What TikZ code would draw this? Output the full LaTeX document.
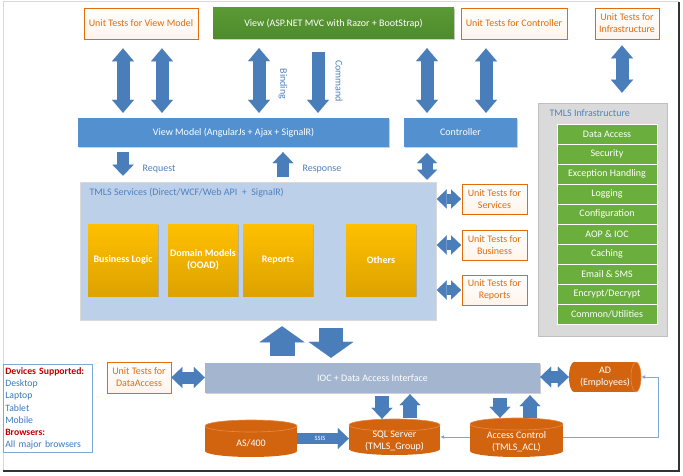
\documentclass[tikz,border=0pt]{standalone}
\usepackage{fontspec}
\setmainfont{Carlito}
\usetikzlibrary{arrows.meta,shadows,calc}
\definecolor{arr}{HTML}{4A7EBB}
\definecolor{org}{HTML}{E36C0A}
\definecolor{orgfill}{HTML}{FFF4EC}
\definecolor{vgreen}{HTML}{5B9A35}
\definecolor{vgreen2}{HTML}{4E8A2C}
\definecolor{igreen}{HTML}{6AAE3E}
\definecolor{bar}{HTML}{5290D0}
\definecolor{lbl}{HTML}{4F81BD}
\definecolor{svcfill}{HTML}{BCD0EA}
\definecolor{yel}{HTML}{FFC000}
\definecolor{yel2}{HTML}{DDA200}
\definecolor{iocfill}{HTML}{A3B5CF}
\definecolor{cylc}{HTML}{D2640F}
\definecolor{cyltop}{HTML}{E8894A}
\definecolor{panelc}{HTML}{DADADA}
\definecolor{thinc}{HTML}{7FA8D6}
\definecolor{devred}{HTML}{C00000}
\definecolor{devblue}{HTML}{3A78C0}
\tikzset{
  Mid/.tip={Triangle[width=22pt,length=13pt,line width=0.01pt]},
  Sm/.tip={Triangle[width=20pt,length=10pt,line width=0.01pt]},
  Hs/.tip={Triangle[width=19pt,length=10pt,line width=0.01pt]},
  Big/.tip={Triangle[width=45pt,length=16pt,line width=0.01pt]},
  Low/.tip={Triangle[width=21pt,length=11pt,line width=0.01pt]},
}
\newcommand\vcyl[6]{%
  \fill[cylc] (#2-#4/2,#3-#5/2+6) rectangle (#2+#4/2,#3+#5/2-6);
  \fill[cylc] (#2,#3+#5/2-6) ellipse [x radius=#4/2, y radius=6];
  \fill[cylc, draw=cyltop, line width=0.6pt] (#2,#3-#5/2+6) ellipse [x radius=#4/2, y radius=6];
  \node[box, minimum width=#4, minimum height=#5] (#1) at (#2,#3) {};
  \node[box, text=white] (#1t) at (#2,#3+4.5) {#6};
}
\begin{document}
\begin{tikzpicture}[x=1pt,y=-1pt,
  font=\fontsize{10}{12}\selectfont,
  box/.style={rectangle, inner sep=0pt, align=center},
  shad/.style={drop shadow={shadow xshift=1.2pt, shadow yshift=-1.2pt, opacity=0.3, fill=black!60}},
  ut/.style={box, draw=org, line width=0.8pt, top color=white, bottom color=orgfill, text=org, shad},
  two/.style={font=\fontsize{10}{12}\selectfont},
  bluebar/.style={box, fill=bar, text=white, shad, minimum height=29},
  yelbox/.style={box, top color=yel, bottom color=yel2, text=white, font=\fontsize{10}{12}\selectfont\bfseries, minimum width=70, minimum height=72, shad},
  item/.style={box, fill=igreen, draw=white, line width=0.6pt, text=white, minimum width=100, minimum height=20},
  fat/.style={draw=arr, line width=13pt},
  lab/.style={text=lbl, font=\fontsize{10}{12}\selectfont},
  thin/.style={draw=thinc, line width=0.8pt, -{Latex[length=4pt,width=4pt]}},
]
% page and frame
\fill[white] (0,0) rectangle (683,476);
\useasboundingbox (0,0) rectangle (683,476);
\draw[black!15, line width=1pt] (3,471) -- (3,2) -- (679,2);
\draw[black!80, line width=2pt] (3,471) -- (679,471) -- (679,2);

% x positions of vertical connectors
\coordinate (xa1) at (123,0);
\coordinate (xa2) at (162,0);
\coordinate (xa3) at (259,0);
\coordinate (xa4) at (318,0);
\coordinate (xa5) at (427,0);
\coordinate (xa6) at (486,0);
\coordinate (xa7) at (622,0);
\coordinate (xres) at (283,0);
\coordinate (xup) at (282,0);
\coordinate (xdn) at (331,0);
\coordinate (xs1) at (382,0);
\coordinate (xs2) at (410,0);
\coordinate (xs3) at (500,0);
\coordinate (xs4) at (530,0);
\coordinate (xthin) at (658,0);

% top row
\node[ut, minimum width=114, minimum height=31] (uvm) at (141,23.5) {Unit Tests for View Model};
\node[box, top color=vgreen, bottom color=vgreen2, text=white, minimum width=241, minimum height=31, shad] (view) at (333.5,23.5) {View (ASP.NET MVC with Razor + BootStrap)};
\node[ut, minimum width=106, minimum height=31] (uctl) at (514,23.5) {Unit Tests for Controller};
\node[ut, two, minimum width=64, minimum height=31] (uinf) at (627,23.5) {Unit Tests for\\Infrastructure};

% second row
\node[bluebar, minimum width=311] (vm) at (233.5,132.5) {View Model (AngularJs + Ajax + SignalR)};
\node[bluebar, minimum width=113] (ctl) at (460.5,132.5) {Controller};

% services
\node[box, fill=svcfill, draw=black!15, line width=0.5pt, minimum width=356, minimum height=138, shad] (svc) at (258,251) {};
\node[lab, anchor=west] (svct) at (86,193) {TMLS Services (Direct/WCF/Web API \ + \ SignalR)};
\node[yelbox] (bl) at (123,260) {Business Logic};
\node[yelbox] (dm) at (203,260) {Domain Models\\(OOAD)};
\node[yelbox] (rep) at (278,260) {Reports};
\node[yelbox] (oth) at (381,260) {Others};

\node[ut, two, minimum width=65, minimum height=30] (uts) at (494.5,199) {Unit Tests for\\Services};
\node[ut, two, minimum width=65, minimum height=30] (utb) at (494.5,245) {Unit Tests for\\Business};
\node[ut, two, minimum width=65, minimum height=30] (utr) at (494.5,290) {Unit Tests for\\Reports};

% infrastructure panel
\node[box, fill=panelc, draw=black!25, line width=0.6pt, minimum width=129, minimum height=233, shad] (infra) at (602.5,219.5) {};
\node[lab, anchor=west] (infrat) at (546,113) {TMLS Infrastructure};
\node[item] (i1) at (607,134) {Data Access};
\node[item] (i2) at (607,154) {Security};
\node[item] (i3) at (607,174) {Exception Handling};
\node[item] (i4) at (607,194) {Logging};
\node[item] (i5) at (607,214) {Configuration};
\node[item] (i6) at (607,234) {AOP \& IOC};
\node[item] (i7) at (607,254) {Caching};
\node[item] (i8) at (607,274) {Email \& SMS};
\node[item] (i9) at (607,294) {Encrypt/Decrypt};
\node[item] (i10) at (607,314) {Common/Utilities};

% data layer
\node[box, fill=iocfill, text=white, minimum width=335, minimum height=30, shad] (ioc) at (372.5,378) {IOC + Data Access Interface};
\node[ut, two, minimum width=64, minimum height=31] (utda) at (139,377.5) {Unit Tests for\\DataAccess};

\vcyl{as400}{251}{438.5}{92}{37}{AS/400}
\vcyl{sql}{394.5}{437}{91}{36}{SQL Server\\(TMLS\_Group)}
\vcyl{acl}{516.5}{437.5}{93}{39}{Access Control\\(TMLS\_ACL)}

% AD horizontal cylinder
\fill[cylc] (574,362) rectangle (636,392);
\fill[cylc] (574,377) ellipse [x radius=5, y radius=15];
\fill[cylc, draw=cyltop, line width=0.6pt] (636,377) ellipse [x radius=5, y radius=15];
\node[box, text=white, minimum width=72, minimum height=30] (ad) at (605,377) {AD\\(Employees)};

% devices box
\node[box, draw=thinc, line width=0.6pt, anchor=north west, text width=85, inner xsep=2pt, inner ysep=3pt, align=left, font=\fontsize{9.7}{12.3}\selectfont] (dev) at (3,364)
{{\color{devred}\bfseries Devices Supported:}\\
 {\color{devblue}Desktop}\\
 {\color{devblue}Laptop}\\
 {\color{devblue}Tablet}\\
 {\color{devblue}Mobile}\\
 {\color{devred}\bfseries Browsers:}\\
 {\color{devblue}All major browsers}};

% top fat arrows
\draw[fat, Mid-Mid, shorten <=9, shorten >=5] (uvm.south -| xa1) -- (vm.north -| xa1);
\draw[fat, Mid-Mid, shorten <=9, shorten >=5] (uvm.south -| xa2) -- (vm.north -| xa2);
\draw[fat, Mid-Mid, shorten <=9, shorten >=5] (view.south -| xa3) -- (vm.north -| xa3);
\draw[fat, -Mid, shorten <=13, shorten >=5] (view.south -| xa4) -- (vm.north -| xa4);
\draw[fat, Mid-Mid, shorten <=9, shorten >=5] (view.south -| xa5) -- (ctl.north -| xa5);
\draw[fat, Mid-Mid, shorten <=9, shorten >=5] (uctl.south -| xa6) -- (ctl.north -| xa6);
\draw[fat, Mid-Mid, shorten <=6, shorten >=10] (uinf.south -| xa7) -- (infra.north -| xa7);
\node[lab, rotate=-90] (bind) at (283,84) {Binding};
\node[lab, rotate=-90] (cmd) at (339,81) {Command};

% view model to services
\draw[fat, line width=12pt, -Low, shorten <=5, shorten >=6] (vm.south -| xa1) -- (svc.north -| xa1);
\draw[fat, line width=12pt, -Low, shorten <=5, shorten >=5] (svc.north -| xres) -- (vm.south -| xres);
\draw[fat, line width=11pt, Sm-Sm, shorten <=6, shorten >=2] (ctl.south -| xa5) -- (svc.north -| xa5);
\node[lab, anchor=west] (req) at (139,169) {Request};
\node[lab, anchor=west] (resp) at (299,169) {Response};

% services to unit tests
\draw[fat, line width=10pt, Hs-Hs, shorten <=0.5, shorten >=0.5] (svc.east |- uts) -- (uts.west);
\draw[fat, line width=10pt, Hs-Hs, shorten <=0.5, shorten >=0.5] (svc.east |- utb) -- (utb.west);
\draw[fat, line width=10pt, Hs-Hs, shorten <=0.5, shorten >=0.5] (svc.east |- utr) -- (utr.west);

% services to ioc
\draw[fat, line width=25pt, -Big, shorten <=7, shorten >=6] (ioc.north -| xup) -- (svc.south -| xup);
\draw[fat, line width=24pt, -Big, shorten <=8, shorten >=5] (svc.south -| xdn) -- (ioc.north -| xdn);

% ioc side arrows
\draw[fat, line width=12pt, Low-Low] (utda.east) -- (ioc.west |- utda);
\draw[fat, line width=12pt, Low-Low] (ioc.east |- ad) -- (ad.west);

% ioc to databases
\draw[fat, line width=14pt, -Low, shorten <=3, shorten >=0] (ioc.south -| xs1) -- (sql.north -| xs1);
\draw[fat, line width=14pt, -Low, shorten <=1, shorten >=1] (sql.north -| xs2) -- (ioc.south -| xs2);
\draw[fat, line width=14pt, -Low, shorten <=5, shorten >=0] (ioc.south -| xs3) -- (acl.north -| xs3);
\draw[fat, line width=14pt, -Low, shorten <=0, shorten >=2] (acl.north -| xs4) -- (ioc.south -| xs4);

% SSIS
\draw[fat, line width=11pt, -Low] (as400.east) -- (sql.west |- as400.east)
  node[midway, text=white, font=\fontsize{6.5}{7}\selectfont, xshift=-3pt] (ssis) {SSIS};

% thin connectors
\draw[thin] (acl.west |- sql.east) -- (sql.east);
\draw[thin] (acl.east |- sql.east) -- (xthin |- sql.east) -- (xthin |- ad.east) -- (ad.east);
\end{tikzpicture}
\end{document}
